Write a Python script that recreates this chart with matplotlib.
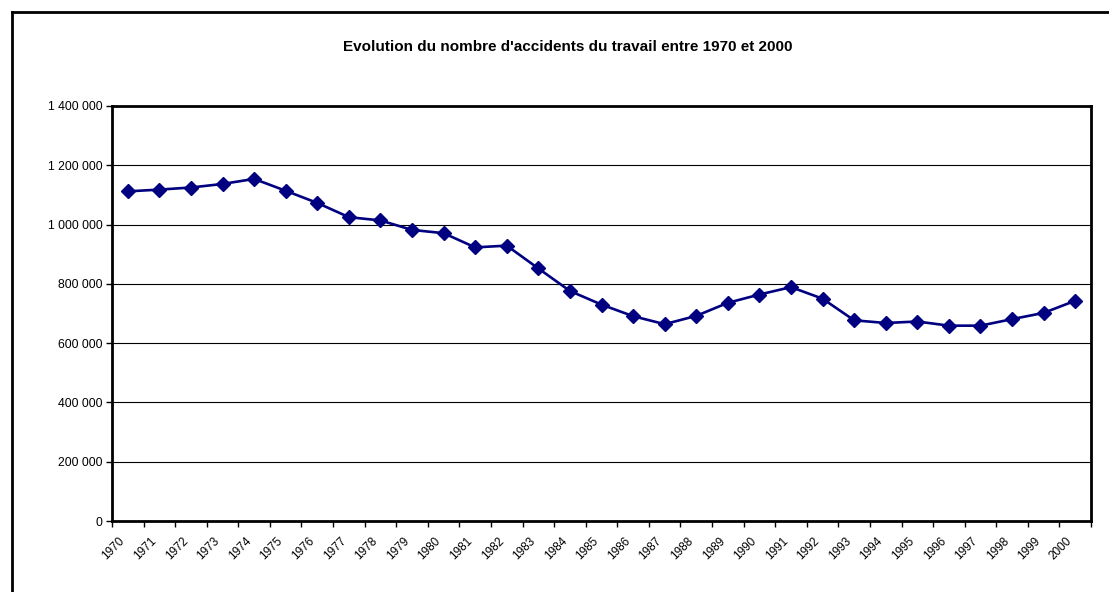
import numpy as np
import matplotlib.pyplot as plt
from matplotlib.ticker import FuncFormatter
from matplotlib.transforms import ScaledTranslation

years = list(range(1970, 2001))
accidents = [1112000, 1118000, 1125000, 1137000, 1154000, 1114000, 1073000, 1025000,
             1014000, 982000, 971000, 923000, 929000, 852000, 776000, 730000,
             691000, 664000, 692000, 736000, 764000, 789000, 750000, 677000,
             668000, 673000, 659000, 659000, 681000, 702000, 743000]
y_ticks = [0, 200000, 400000, 600000, 800000, 1000000, 1200000, 1400000]

plt.rcParams['font.family'] = ['Liberation Sans', 'DejaVu Sans']

fig = plt.figure(figsize=(11.09, 5.92), dpi=100)
ax = fig.add_axes([112 / 1109, 1 - 521 / 592, (1091 - 112) / 1109, (521 - 106) / 592])

x = np.arange(len(years))
ax.plot(x, accidents, color='#000080', lw=1.9, marker='D', ms=7.5,
        mfc='#000080', mec='#000080', zorder=3)

ax.set_xlim(-0.5, len(years) - 0.5)
ax.set_ylim(0, 1400000)
ax.set_yticks(y_ticks)
ax.yaxis.set_major_formatter(FuncFormatter(lambda v, p: f"{int(v):,}".replace(",", " ")))
ax.grid(axis='y', color='black', lw=0.8)
ax.set_axisbelow(True)

# ticks between categories, labels on category centres
ax.set_xticks(np.arange(-0.5, len(years)), labels=[])
ax.set_xticks(x, minor=True)
ax.set_xticklabels([str(y) for y in years], minor=True, rotation=45,
                   ha='right', va='top', rotation_mode='anchor')
ax.tick_params(axis='x', which='minor', length=0, pad=10, labelsize=8.5)
ax.tick_params(axis='x', which='major', length=4, width=1, direction='out')
ax.tick_params(axis='y', length=4, width=1, labelsize=8.8, pad=3)
shift = ScaledTranslation(-9 / 100, 0, fig.dpi_scale_trans)
for lab in ax.get_xticklabels(minor=True):
    lab.set_transform(lab.get_transform() + shift)

for s in ax.spines.values():
    s.set_linewidth(2)
    s.set_color('black')

fig.text(568 / 1109, 1 - 47 / 592, "Evolution du nombre d'accidents du travail entre 1970 et 2000",
         ha='center', va='center', fontsize=11, fontweight='bold')

# chart frame
fig.add_artist(plt.Line2D([12 / 1109, 12 / 1109], [0, 1 - 12 / 592], color='black', lw=2))
fig.add_artist(plt.Line2D([12 / 1109, 1], [1 - 12 / 592, 1 - 12 / 592], color='black', lw=2))

fig.savefig('out.png', dpi=100)
